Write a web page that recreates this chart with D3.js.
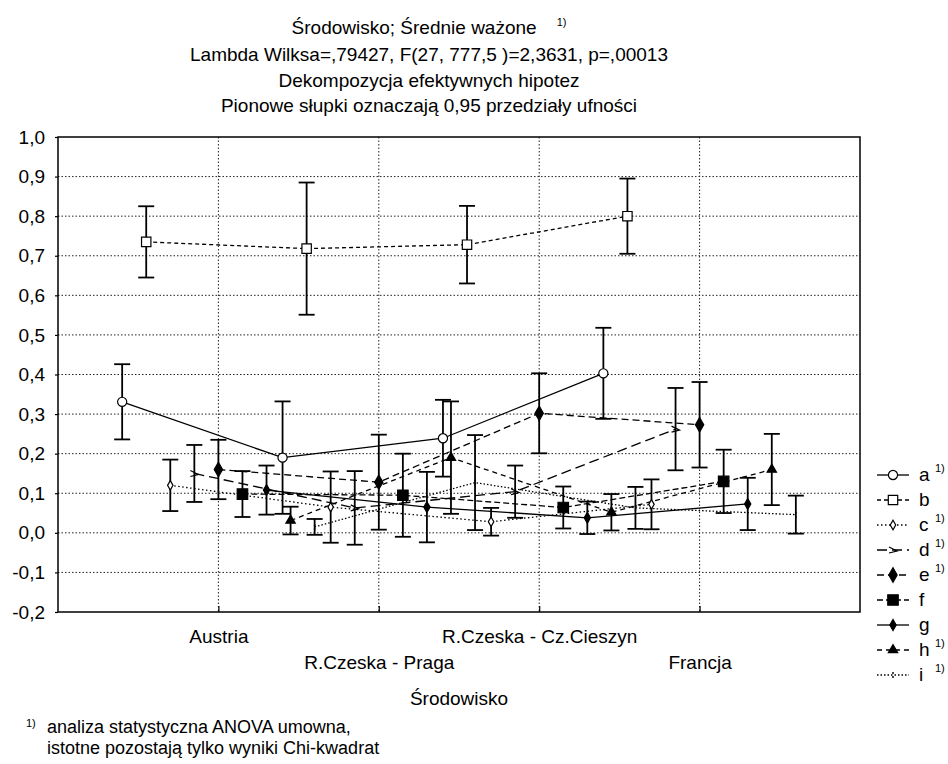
<!DOCTYPE html>
<html>
<head>
<meta charset="utf-8">
<script src="https://cdn.jsdelivr.net/npm/d3@7"></script>
<style>
  body { margin: 0; background: #fff; }
  svg { display: block; font-family: "Liberation Sans", Arial, sans-serif; }
  .grid line { stroke: #222; stroke-width: 1; stroke-dasharray: 1.5,2; }
  .axis path { display: none; }
  .axis line { stroke: #000; stroke-width: 1.2; }
  .axis text { font-size: 19px; fill: #000; }
  .title { font-size: 19px; text-anchor: middle; }
  .sup { font-size: 11px; }
</style>
</head>
<body>
<script>
(function(){

// categories (x axis) and series names
var categories = ["Austria", "R.Czeska - Praga", "R.Czeska - Cz.Cieszyn", "Francja"];
var seriesNames = ["a", "b", "c", "d", "e", "f", "g", "h", "i"];
var flagged = ["a", "c", "d", "e", "h", "i"]; // series marked with 1)

// weighted means per series (one value per category)
var meanA = [0.331, 0.190, 0.239, 0.403];
var meanB = [0.735, 0.718, 0.728, 0.800];
var meanC = [0.120, 0.065, 0.028, 0.072];
var meanD = [0.150, 0.063, 0.104, 0.262];
var meanE = [0.160, 0.128, 0.302, 0.273];
var meanF = [0.098, 0.095, 0.064, 0.130];
var meanG = [0.108, 0.065, 0.038, 0.073];
var meanH = [0.031, 0.190, 0.052, 0.160];
var meanI = [0.015, 0.127, 0.063, 0.046];

// half width of the 0.95 confidence intervals
var ciA = [0.095, 0.142, 0.097, 0.115];
var ciB = [0.090, 0.167, 0.098, 0.095];
var ciC = [0.065, 0.090, 0.035, 0.063];
var ciD = [0.072, 0.093, 0.066, 0.104];
var ciE = [0.075, 0.120, 0.101, 0.108];
var ciF = [0.058, 0.105, 0.053, 0.080];
var ciG = [0.062, 0.089, 0.041, 0.066];
var ciH = [0.035, 0.142, 0.046, 0.090];
var ciI = [0.020, 0.120, 0.053, 0.048];

var yTicks = [-0.2, -0.1, 0.0, 0.1, 0.2, 0.3, 0.4, 0.5, 0.6, 0.7, 0.8, 0.9, 1.0];

var titleLines = [
    "Środowisko; Średnie ważone",
    "Lambda Wilksa=,79427, F(27, 777,5 )=2,3631, p=,00013",
    "Dekompozycja efektywnych hipotez",
    "Pionowe słupki oznaczają 0,95 przedziały ufności"
];

var means = [meanA, meanB, meanC, meanD, meanE, meanF, meanG, meanH, meanI];
var cis = [ciA, ciB, ciC, ciD, ciE, ciF, ciG, ciH, ciI];

//line dash and marker per series
var dashes = ["none", "4,3", "1.5,2.5", "10,5", "7,4", "6,3", "none", "5,4", "1.5,2"];
var markers = ["circle", "square", "diamondSmall", "wedge", "diamond", "squareFill", "diamondFill", "triangle", "tick"];

var width = 948, height = 764;
var margin = {left: 58, right: 88, top: 137, bottom: 152};
var plotW = width - margin.left - margin.right,
    plotH = height - margin.top - margin.bottom;

var svg = d3.select("body").append("svg")
    .attr("width", width)
    .attr("height", height);

//x: categories sit at 1..4, series offset around them
var x = d3.scaleLinear().domain([0, 5]).range([margin.left, margin.left + plotW]);
var y = d3.scaleLinear().domain([-0.2, 1.0]).range([margin.top + plotH, margin.top]);
var step = 0.15;

function px(s, c){
    return x(c + 1 + (s - 4) * step);
}

//titles
var titleY = [34, 61, 87, 112];
titleLines.forEach(function(t, k){
    var txt = svg.append("text")
        .attr("class", "title")
        .attr("x", 429)
        .attr("y", titleY[k])
        .text(t);
    if (k == 0){
        txt.append("tspan").attr("class", "sup").attr("dx", 20).attr("dy", -8).text("1)");
    }
});

//grid
var grid = svg.append("g").attr("class", "grid");
grid.selectAll(".h")
    .data(yTicks.slice(1, -1))
    .enter().append("line")
    .attr("x1", margin.left).attr("x2", margin.left + plotW)
    .attr("y1", function(d){ return y(d); })
    .attr("y2", function(d){ return y(d); });
grid.selectAll(".v")
    .data(categories)
    .enter().append("line")
    .attr("x1", function(d, i){ return x(i + 1); })
    .attr("x2", function(d, i){ return x(i + 1); })
    .attr("y1", margin.top).attr("y2", margin.top + plotH);

//axes
var yAxis = d3.axisLeft(y)
    .tickValues(yTicks)
    .tickSizeInner(3)
    .tickSizeOuter(0)
    .tickPadding(10)
    .tickFormat(function(d){ return d.toFixed(1).replace(".", ","); });
svg.append("g").attr("class", "axis")
    .attr("transform", "translate(" + margin.left + ",0)")
    .call(yAxis);

var xAxis = d3.axisBottom(x)
    .tickValues([1, 2, 3, 4])
    .tickSizeInner(-6)
    .tickSizeOuter(0)
    .tickFormat(function(d){ return categories[d - 1]; });
var xg = svg.append("g").attr("class", "axis")
    .attr("transform", "translate(0," + (margin.top + plotH) + ")")
    .call(xAxis);
xg.selectAll(".tick text")
    .attr("dy", null)
    .attr("y", function(d){ return d % 2 == 0 ? 57 : 31; });

svg.append("text")
    .attr("x", x(2.5))
    .attr("y", 705)
    .attr("text-anchor", "middle")
    .style("font-size", "19px")
    .text("Środowisko");

//series lines
var line = d3.line()
    .x(function(d){ return d.x; })
    .y(function(d){ return y(d.v); });

seriesNames.forEach(function(name, s){
    var pts = means[s].map(function(v, c){ return {x: px(s, c), v: v}; });
    svg.append("path")
        .datum(pts)
        .attr("d", line)
        .attr("fill", "none")
        .attr("stroke", "#000")
        .attr("stroke-width", 1.3)
        .attr("stroke-dasharray", dashes[s]);
});

//error bars
seriesNames.forEach(function(name, s){
    var g = svg.append("g").attr("stroke", "#000").attr("stroke-width", 1.8);
    means[s].forEach(function(v, c){
        var cx = px(s, c), lo = y(v - cis[s][c]), hi = y(v + cis[s][c]);
        g.append("line").attr("x1", cx).attr("x2", cx).attr("y1", lo).attr("y2", hi);
        g.append("line").attr("x1", cx - 8).attr("x2", cx + 8).attr("y1", lo).attr("y2", lo);
        g.append("line").attr("x1", cx - 8).attr("x2", cx + 8).attr("y1", hi).attr("y2", hi);
    });
});

//marker drawing
function drawMarker(sel, type){
    var sym = null, fill = "#000", size = 40;
    if (type == "circle"){ sym = d3.symbolCircle; fill = "#fff"; size = 66; }
    if (type == "square"){ sym = d3.symbolSquare; fill = "#fff"; size = 88; }
    if (type == "squareFill"){ sym = d3.symbolSquare; size = 110; }
    if (type == "diamond"){ sym = d3.symbolDiamond; size = 60; }
    if (type == "diamondFill"){ sym = d3.symbolDiamond; size = 34; }
    if (type == "diamondSmall"){ sym = d3.symbolDiamond; fill = "#fff"; size = 26; }
    if (type == "triangle"){ sym = d3.symbolTriangle; size = 38; }
    if (sym){
        sel.append("path")
            .attr("d", d3.symbol().type(sym).size(size))
            .attr("fill", fill)
            .attr("stroke", "#000")
            .attr("stroke-width", 1.2);
    } else if (type == "wedge"){
        sel.append("path")
            .attr("d", "M-4,-3L4,1L-4,3")
            .attr("fill", "none")
            .attr("stroke", "#000")
            .attr("stroke-width", 1.2);
    } else {
        sel.append("path")
            .attr("d", "M0,-3V-1M0,1V3")
            .attr("stroke", "#000")
            .attr("stroke-width", 1.4);
    }
}

seriesNames.forEach(function(name, s){
    means[s].forEach(function(v, c){
        var g = svg.append("g").attr("transform", "translate(" + px(s, c) + "," + y(v) + ")");
        drawMarker(g, markers[s]);
    });
});

//frame
svg.append("rect")
    .attr("x", margin.left).attr("y", margin.top)
    .attr("width", plotW).attr("height", plotH)
    .attr("fill", "none").attr("stroke", "#000").attr("stroke-width", 1.5);

//legend
var legend = svg.append("g").attr("transform", "translate(877,475)");
seriesNames.forEach(function(name, s){
    var item = legend.append("g").attr("transform", "translate(0," + (s * 25) + ")");
    item.append("line")
        .attr("x1", 0).attr("x2", 32).attr("y1", 0).attr("y2", 0)
        .attr("stroke", "#000").attr("stroke-width", 1.3)
        .attr("stroke-dasharray", dashes[s]);
    var m = item.append("g").attr("transform", "translate(16,0)");
    drawMarker(m, markers[s]);
    item.append("text")
        .attr("x", 42).attr("y", 6)
        .style("font-size", "19px")
        .text(name);
    if (flagged.indexOf(name) >= 0){
        item.append("text").attr("class", "sup")
            .attr("x", 58).attr("y", -3).text("1)");
    }
});

//footnote
svg.append("text").attr("class", "sup").attr("x", 26).attr("y", 727).text("1)");
svg.append("text").attr("x", 47).attr("y", 733).style("font-size", "18px")
    .text("analiza statystyczna ANOVA umowna,");
svg.append("text").attr("x", 47).attr("y", 754).style("font-size", "18px")
    .text("istotne pozostają tylko wyniki Chi-kwadrat");

})();
</script>
</body>
</html>
